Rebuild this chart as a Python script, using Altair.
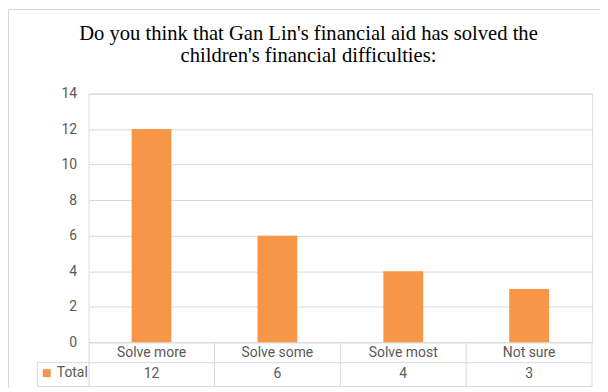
import altair as alt
import pandas as pd

# ---- data ----
categories = ["Solve more", "Solve some", "Solve most", "Not sure"]
totals = [12, 6, 4, 3]
series_name = "Total"
y_ticks = [0, 2, 4, 6, 8, 10, 12, 14]
title_lines = [
    "Do you think that Gan Lin's financial aid has solved the",
    "children's financial difficulties:",
]

df = pd.DataFrame({"category": categories, "value": totals,
                   "series": [series_name] * len(categories)})
one = pd.DataFrame({"k": [0]})

# ---- style ----
W, H = 506, 250
GRID = "#d9d9d9"
TXT = "#595959"
FONT = "Roboto"
ORANGE = "#F79646"

x_scale = alt.Scale(domain=categories, paddingInner=0, paddingOuter=0)
y_scale = alt.Scale(domain=[0, 14])

base = alt.Chart(df)

bars = base.mark_bar(size=40).encode(
    x=alt.X("category:N", scale=x_scale, sort=categories,
            axis=alt.Axis(title=None, orient="bottom", domain=False, ticks=False,
                          tickSize=0, labelPadding=10, labelBaseline="middle",
                          labelFontSize=14, labelColor=TXT, labelFont=FONT,
                          labelAngle=0, grid=False)),
    y=alt.Y("value:Q", scale=y_scale,
            axis=alt.Axis(title=None, values=y_ticks, domain=False, ticks=False,
                          tickSize=0, labelPadding=12, grid=True, gridColor=GRID,
                          gridWidth=1, labelFontSize=14, labelColor=TXT,
                          labelFont=FONT)),
    color=alt.Color("series:N",
                    scale=alt.Scale(domain=[series_name], range=[ORANGE]),
                    legend=alt.Legend(title=None, orient="none", legendX=-49,
                                      legendY=274, symbolType="square",
                                      symbolSize=64, symbolStrokeWidth=0,
                                      labelFontSize=14, labelColor=TXT,
                                      labelFont=FONT, padding=0, labelOffset=3)),
)

# data-table values row
vals = base.mark_text(fontSize=14, color=TXT, font=FONT, baseline="middle").encode(
    x=alt.X("category:N", scale=x_scale, sort=categories),
    y=alt.value(282),
    text="value:Q",
)

# table vertical lines (band edges)
vlines = base.mark_rule(color=GRID, strokeWidth=1).encode(
    x=alt.X("category:N", scale=x_scale, sort=categories, bandPosition=1),
    y=alt.value(250),
    y2=alt.value(294),
)
vline_left = alt.Chart(one).mark_rule(color=GRID, strokeWidth=1).encode(
    x=alt.value(0.5), y=alt.value(250), y2=alt.value(294))
vline_legend = alt.Chart(one).mark_rule(color=GRID, strokeWidth=1).encode(
    x=alt.value(-51.5), y=alt.value(270), y2=alt.value(294))
hline_mid = alt.Chart(one).mark_rule(color=GRID, strokeWidth=1).encode(
    x=alt.value(-52), x2=alt.value(506), y=alt.value(270.5))
hline_bot = alt.Chart(one).mark_rule(color=GRID, strokeWidth=1).encode(
    x=alt.value(-52), x2=alt.value(506), y=alt.value(294.5))

# outer chart border
border_left = alt.Chart(one).mark_rule(color=GRID, strokeWidth=1).encode(
    x=alt.value(-80.5), y=alt.value(-85), y2=alt.value(300))
border_top = alt.Chart(one).mark_rule(color=GRID, strokeWidth=1).encode(
    x=alt.value(-81), x2=alt.value(530), y=alt.value(-84.5))

chart = alt.layer(
    border_left, border_top, bars, vlines, vline_left, vline_legend,
    hline_mid, hline_bot, vals,
).properties(
    width=W, height=H,
    title=alt.TitleParams(text=title_lines, font="Liberation Serif", fontSize=20.7,
                          fontWeight="normal", color="black", anchor="middle",
                          dx=-32, dy=63, lineHeight=22.3),
    autosize=alt.AutoSizeParams(type="none"),
    padding={"left": 81, "top": 85, "right": 8, "bottom": 45},
).configure_view(stroke=None).configure(background="white")

chart.save("out.html", embed_options={"renderer": "svg", "actions": False})
